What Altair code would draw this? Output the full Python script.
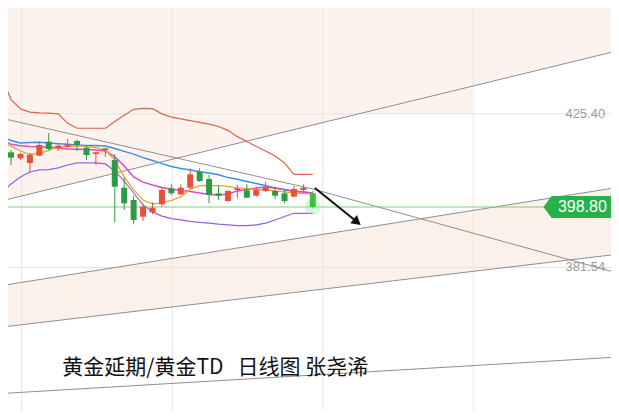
import altair as alt
import pandas as pd

# ---------------- data ----------------
candle_idx = list(range(33))
opens = [414.43, 412.71, 411.37, 413.46, 417.46, 415.57, 416.03, 417.66, 415.74, 413.94, 415.0,
         412.23, 404.31, 400.8, 396.03, 397.29, 399.57, 404.14, 402.43, 404.31, 408.89, 406.8,
         402.71, 400.51, 403.66, 403.57, 402.03, 403.37, 403.37, 402.71, 401.74, 403.66, 402.71]
highs = [415.09, 414.23, 414.23, 417.46, 419.94, 416.71, 418.23, 418.03, 416.31, 414.5, 415.74,
         413.86, 407.17, 402.03, 399.57, 400.14, 404.31, 405.29, 405.29, 409.86, 409.86, 407.94,
         405.09, 403.66, 405.09, 405.29, 404.6, 406.03, 404.6, 403.66, 404.89, 405.29, 403.37]
lows = [410.8, 412.23, 408.6, 413.37, 414.8, 414.8, 415.66, 414.8, 412.23, 410.8, 413.17,
        394.43, 397.94, 393.86, 394.8, 396.71, 398.89, 402.23, 402.23, 403.94, 405.94, 399.86,
        400.8, 400.23, 401.29, 401.29, 401.74, 403.09, 401.09, 399.86, 401.74, 403.37, 398.43]
closes = [412.89, 413.94, 413.66, 416.51, 415.37, 416.31, 416.71, 416.51, 413.66, 414.43, 415.57,
          404.6, 399.86, 395.09, 398.89, 398.6, 403.66, 402.71, 404.31, 408.14, 406.23, 402.23,
          402.03, 403.37, 404.14, 401.46, 403.66, 404.31, 402.03, 400.51, 403.94, 404.31, 398.8]

line_idx = list(range(-1, 33))
boll_upper = [436.0, 429.5, 426.8, 425.9, 425.7, 425.6, 425.4, 422.7, 421.3, 421.3, 421.3, 421.3,
              423.2, 425.0, 426.7, 427.0, 426.9, 425.4, 424.5, 424.0, 423.5, 423.0, 422.5, 421.8,
              420.7, 418.9, 417.5, 416.1, 414.8, 413.4, 411.4, 408.1, 408.1, 408.1]
boll_lower = [402.8, 405.4, 407.4, 408.8, 409.4, 409.5, 410.0, 410.8, 411.4, 411.4, 411.4, 411.1,
              409.1, 406.2, 402.8, 399.4, 397.4, 396.2, 395.5, 395.1, 394.7, 394.4, 394.2, 393.9,
              393.7, 393.5, 393.5, 393.7, 394.2, 395.1, 396.1, 397.0, 397.0, 397.0]
ma_blue = [418.94, 417.8, 417.1, 417.2, 417.3, 417.1, 416.9, 416.7, 416.5, 416.4, 416.4, 416.2,
           415.5, 414.7, 413.9, 412.9, 412.1, 411.2, 410.4, 409.8, 409.4, 408.9, 408.5, 408.0,
           407.2, 406.7, 406.1, 405.5, 404.9, 404.2, 403.7, 403.2, 403.1, 402.7]
ma_magenta = [418.1, 416.7, 416.3, 416.1, 416.0, 415.9, 415.7, 415.4, 415.3, 415.2, 415.1, 414.8,
              413.1, 410.5, 407.4, 405.9, 405.1, 404.4, 403.9, 403.5, 403.2, 402.8, 402.4, 402.2,
              402.5, 403.4, 403.8, 404.2, 404.5, 404.2, 403.8, 403.4, 403.1, 402.8]
ma_orange = [417.5, 416.2, 414.8, 413.8, 414.1, 415.0, 416.0, 416.2, 416.3, 416.1, 415.8, 415.0,
             412.2, 407.4, 403.7, 400.8, 399.7, 399.9, 400.7, 401.7, 403.9, 404.9, 405.0, 404.9,
             404.7, 404.2, 404.1, 403.8, 403.7, 403.4, 403.1, 402.8, 402.7, 402.5]

# drawn trend lines (bar index, price)
trend_name = ["A", "A", "B", "B", "C", "C", "D", "D", "D", "E", "E"]
trend_idx = [-0.63, 63.92, -0.63, 63.92, -0.63, 63.92, -0.63, 32.01, 63.92, -0.63, 63.92]
trend_price = [400.8, 443.17, 376.51, 404.23, 364.6, 385.17, 423.94, 403.94, 380.23, 345.57, 355.86]

grid_prices = [425.40, 381.54]
grid_idx = [1.12, 17.10, 33.06, 49.01]
last_price = 398.80
label_prices = [425.40, 381.54]
label_texts = ["425.40", "381.54"]
title_text = "黄金延期/黄金TD\u00a0\u00a0 日线图 张尧浠"

arrow_idx = [32.22, 36.7]
arrow_price = [404.23, 394.5]

# ---------------- scales ----------------
xs = alt.Scale(domain=[0.2086, 63.087], nice=False, zero=False)
ys = alt.Scale(domain=[340.514, 455.657], nice=False, zero=False)
X = lambda f: alt.X(f, type="quantitative", scale=xs, axis=None)
Y = lambda f: alt.Y(f, type="quantitative", scale=ys, axis=None)

PINK = "#fdf3ee"
UP = "#e5513c"
DOWN = "#2f9a45"
LAST = "#36c23a"

# ---------------- background zones ----------------
zone_top = pd.DataFrame({"i": [-1.0], "i2": [48.9], "p": [425.4], "p2": [470.0]})
l_top = alt.Chart(zone_top).mark_rect(color=PINK, clip=True).encode(
    x=X("i"), x2="i2", y=Y("p"), y2="p2")

zone_a = pd.DataFrame({"i": [trend_idx[0], trend_idx[1]],
                       "lo": [trend_price[0], trend_price[1]], "hi": [470.0, 470.0]})
l_a = alt.Chart(zone_a).mark_area(color=PINK, clip=True).encode(x=X("i"), y=Y("lo"), y2="hi")

zone_bc = pd.DataFrame({"i": [trend_idx[2], trend_idx[3]],
                        "lo": [trend_price[4], trend_price[5]],
                        "hi": [trend_price[2], trend_price[3]]})
l_bc = alt.Chart(zone_bc).mark_area(color="#fcf0eb", clip=True).encode(x=X("i"), y=Y("lo"), y2="hi")

# ---------------- grid ----------------
g_h = alt.Chart(pd.DataFrame({"p": grid_prices})).mark_rule(color="#e7e2df", strokeWidth=1).encode(y=Y("p"))
g_v = alt.Chart(pd.DataFrame({"i": grid_idx})).mark_rule(color="#ebe5e2", strokeWidth=1).encode(x=X("i"))
g_last = alt.Chart(pd.DataFrame({"p": [last_price]})).mark_rule(color="#79cf79", strokeWidth=1).encode(y=Y("p"))

# ---------------- trend lines ----------------
df_t = pd.DataFrame({"name": trend_name, "i": trend_idx, "p": trend_price})
l_trend = alt.Chart(df_t).mark_line(color="#8f8f8f", strokeWidth=1, clip=True).encode(
    x=X("i"), y=Y("p"), detail="name:N")

# ---------------- indicator lines ----------------
def line_layer(vals, color, w=1.2):
    df = pd.DataFrame({"i": line_idx, "p": vals})
    return alt.Chart(df).mark_line(color=color, strokeWidth=w, clip=True).encode(x=X("i"), y=Y("p"))

l_upper = line_layer(boll_upper, "#d8654c")
l_lower = line_layer(boll_lower, "#9a5ee0")
l_blue = line_layer(ma_blue, "#3d8ee8", 1.5)
l_mag = line_layer(ma_magenta, "#e244c8", 1.5)
l_orange = line_layer(ma_orange, "#f0a030", 1.3)

# ---------------- candles ----------------
df_c = pd.DataFrame({"i": candle_idx, "o": opens, "h": highs, "l": lows, "c": closes})
kind = []
for k in range(len(df_c)):
    if k == len(df_c) - 1:
        kind.append("last")
    elif closes[k] >= opens[k]:
        kind.append("up")
    else:
        kind.append("down")
df_c["kind"] = kind

glow = alt.Chart(df_c[df_c["kind"] == "last"]).mark_point(
    shape="circle", filled=True, size=260, color="#8ee68e", opacity=0.35).encode(x=X("i"), y=Y("c"))

candle_layers = []
for kname, col in [("up", UP), ("down", DOWN), ("last", LAST)]:
    sub = df_c[df_c["kind"] == kname]
    candle_layers.append(alt.Chart(sub).mark_rule(color=col, strokeWidth=1, clip=True).encode(
        x=X("i"), y=Y("l"), y2="h"))
    candle_layers.append(alt.Chart(sub).mark_bar(color=col, size=6, clip=True).encode(
        x=X("i"), y=Y("o"), y2="c"))

# ---------------- arrow ----------------
df_arrow = pd.DataFrame({"i": arrow_idx, "p": arrow_price})
l_arrow = alt.Chart(df_arrow).mark_line(color="#111111", strokeWidth=2, clip=True).encode(x=X("i"), y=Y("p"))
l_head = alt.Chart(df_arrow.tail(1)).mark_point(
    shape="triangle-right", filled=True, size=110, angle=39, color="#111111", opacity=1).encode(
    x=X("i"), y=Y("p"))

# ---------------- labels ----------------
df_lab = pd.DataFrame({"i": [63.0] * len(label_prices), "p": label_prices, "t": label_texts})
l_lab = alt.Chart(df_lab).mark_text(align="right", baseline="middle", fontSize=13,
                                    font="Liberation Sans", color="#9c9c9c").encode(
    x=X("i"), y=Y("p"), text="t:N")

tag_shape = "M -1 0 L -0.77 -0.31 L 1 -0.31 L 1 0.31 L -0.77 0.31 Z"
df_tag = pd.DataFrame({"i": [60.22], "p": [last_price], "t": [f"{last_price:.2f}"]})
l_tag = alt.Chart(df_tag).mark_point(shape=tag_shape, filled=True, size=5041,
                                     color="#26b14b", opacity=1, strokeWidth=0).encode(
    x=X("i"), y=Y("p"))
l_tagtxt = alt.Chart(pd.DataFrame({"i": [60.58], "p": [last_price], "t": [f"{last_price:.2f}"]})).mark_text(
    align="center", baseline="middle", fontSize=16, font="Liberation Sans", color="white").encode(
    x=X("i"), y=Y("p"), text="t:N")

l_title = alt.Chart(pd.DataFrame({"i": [5.42], "p": [352.8], "t": [title_text]})).mark_text(
    align="left", baseline="middle", fontSize=21, font="Noto Sans CJK SC", color="#111111").encode(
    x=X("i"), y=Y("p"), text="t:N")

chart = alt.layer(
    l_top, l_a, l_bc, g_h, g_v, l_trend, g_last,
    l_upper, l_lower, l_blue, l_mag, l_orange,
    glow, *candle_layers,
    l_arrow, l_head, l_lab, l_tag, l_tagtxt, l_title,
).properties(
    width=603, height=403, padding=0,
    autosize=alt.AutoSizeParams(type="none"),
    background="white",
).configure_view(strokeWidth=0)

chart.save("out.html", embed_options={"renderer": "svg", "actions": False})
